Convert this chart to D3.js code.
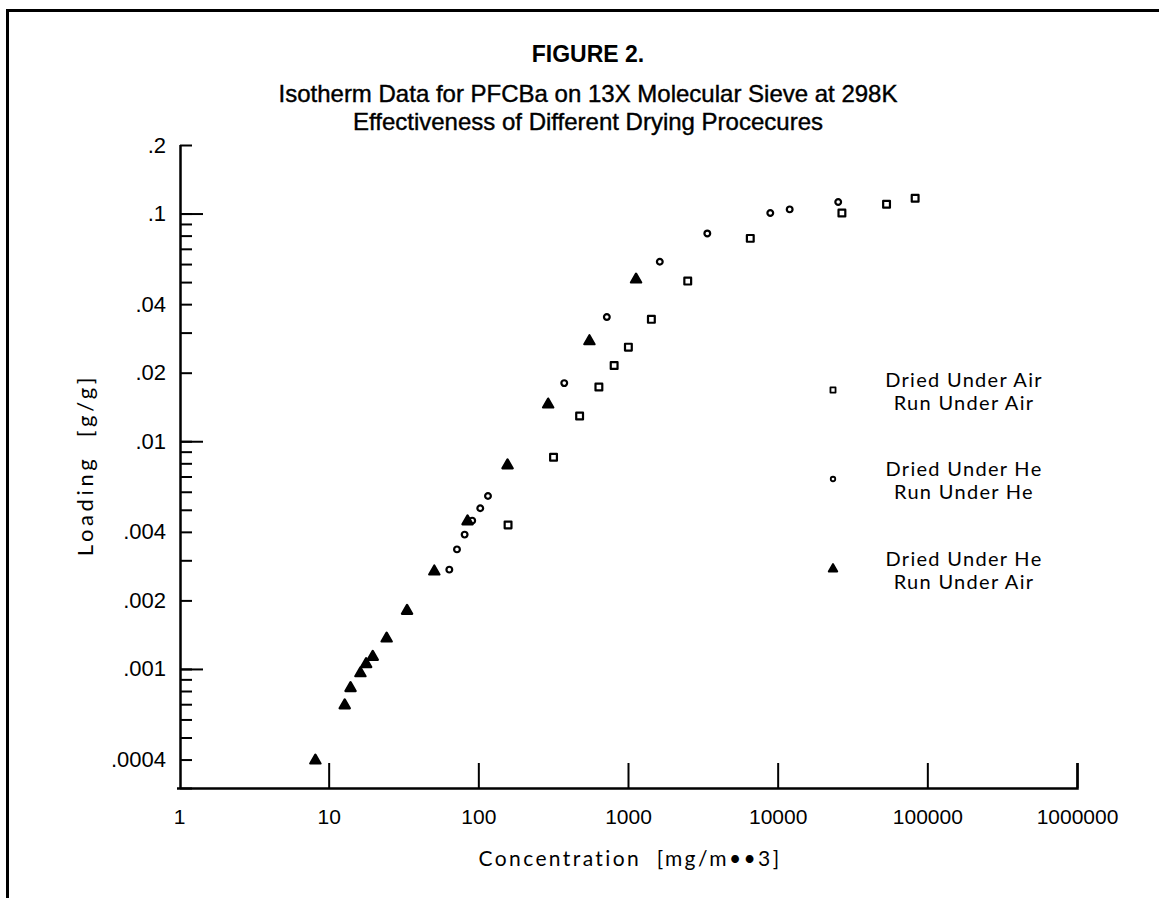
<!DOCTYPE html>
<html>
<head>
<meta charset="utf-8">
<script src="https://cdn.jsdelivr.net/npm/d3@7"></script>
<style>
  body { margin: 0; background: #fff; }
  svg { display: block; }
</style>
</head>
<body>
<svg id="chart"></svg>
<script>
// Isotherm data (concentration mg/m3, loading g/g)
const airX = [158, 318, 475, 639, 808, 1006, 1433, 2507, 6562, 26870, 53400, 82900];
const airY = [0.00429, 0.0085, 0.0129, 0.0173, 0.0215, 0.0259, 0.0343, 0.0505, 0.0778, 0.1005, 0.1098, 0.1167];

const heX = [64, 72, 81, 91, 103, 116, 375, 722, 1631, 3388, 8926, 12030, 25380];
const heY = [0.00273, 0.00335, 0.00389, 0.00448, 0.00508, 0.00575, 0.0180, 0.0351, 0.0614, 0.0818, 0.1005, 0.1043, 0.1124];

const heAirX = [8.15, 12.8, 14.0, 16.3, 17.8, 19.7, 24.4, 33.4, 50.8, 84.7, 156.7, 292.8, 552.5, 1132];
const heAirY = [0.000396, 0.000692, 0.000824, 0.000957, 0.00105, 0.00113, 0.00136, 0.0018, 0.00268, 0.00445, 0.00784, 0.0145, 0.0275, 0.0513];

const xTicks = [1, 10, 100, 1000, 10000, 100000, 1000000];
const xTickLabels = ["1", "10", "100", "1000", "10000", "100000", "1000000"];
const yTicks = [0.2, 0.1, 0.04, 0.02, 0.01, 0.004, 0.002, 0.001, 0.0004];
const yTickLabels = [".2", ".1", ".04", ".02", ".01", ".004", ".002", ".001", ".0004"];
const yMajor = [0.1, 0.01, 0.001];

const legendLines = [
  ["Dried Under Air", "Run Under Air"],
  ["Dried Under He", "Run Under He"],
  ["Dried Under He", "Run Under Air"]
];

let vWidth = 1159;
let vHeight = 898;
let geo = "Lato, 'DejaVu Sans', sans-serif";
let helv = "'Liberation Sans', Arial, sans-serif";

let svg = d3.select('#chart')
  .attr('width', vWidth)
  .attr('height', vHeight)

// page frame (top and left edges of the scanned sheet)
svg.append('path')
  .attr('d', 'M7.5,898 V10.5 H1159')
  .attr('fill', 'none')
  .attr('stroke', '#000')
  .attr('stroke-width', 3)

let x = d3.scaleLog().domain([1, 1e6]).range([179, 1077])
let y = d3.scaleLog().domain([0.0003, 0.2]).range([788, 145])

// titles
svg.append('text')
  .attr('x', 588).attr('y', 54)
  .attr('text-anchor', 'middle').attr('dominant-baseline', 'central')
  .style('font-family', helv).style('font-weight', 'bold').style('font-size', '23px')
  .text('FIGURE 2.')

let subtitles = svg.append('g')
  .style('font-family', helv).style('font-size', '24px')
  .attr('stroke', '#000').attr('stroke-width', 0.4)

subtitles.append('text')
  .attr('x', 588).attr('y', 93)
  .attr('text-anchor', 'middle').attr('dominant-baseline', 'central')
  .text('Isotherm Data for PFCBa on 13X Molecular Sieve at 298K')

subtitles.append('text')
  .attr('x', 588).attr('y', 121)
  .attr('text-anchor', 'middle').attr('dominant-baseline', 'central')
  .text('Effectiveness of Different Drying Procecures')

// y axis: minor ticks, major ticks, labels
let minor = []
for (let e = -4; e <= -1; e++) {
  for (let m = 1; m <= 9; m++) {
    let v = m * Math.pow(10, e)
    if (v >= 0.0003 && v <= 0.2) minor.push(v)
  }
}

let yMinorAxis = svg.append('g')
  .attr('transform', 'translate(180,0)')
  .call(d3.axisLeft(y).tickValues(minor).tickSizeInner(-12).tickSizeOuter(0).tickFormat(''))

let yMajorAxis = svg.append('g')
  .attr('transform', 'translate(180,0)')
  .call(d3.axisLeft(y).tickValues(yMajor).tickSizeInner(-23).tickSizeOuter(0).tickFormat(''))

let yLabelAxis = svg.append('g')
  .attr('transform', 'translate(180,0)')
  .call(d3.axisLeft(y).tickValues(yTicks).tickSize(0).tickPadding(14)
    .tickFormat((d, i) => yTickLabels[i]))

let xAxis = svg.append('g')
  .attr('transform', 'translate(0,788)')
  .call(d3.axisBottom(x).tickValues(xTicks).tickSizeInner(-25).tickSizeOuter(0).tickPadding(21)
    .tickFormat((d, i) => xTickLabels[i]))

svg.selectAll('.domain')
  .attr('stroke-width', 2.5)
svg.selectAll('.tick line')
  .attr('stroke-width', 2)
svg.selectAll('.tick text')
  .style('font-family', helv)
  .style('font-size', '21px')
  .attr('fill', '#000')
yLabelAxis.selectAll('.tick text')
  .style('font-size', '22px')

// hide the x tick at 1, it sits on the y axis
xAxis.selectAll('.tick').filter((d) => d === 1).select('line').remove()
xAxis.select('.domain').attr('d', 'M177,0.5H1077.5V-25')
yMinorAxis.select('.domain').attr('d', 'M0.5,' + y(0.0003) + 'V' + y(0.2))
yMajorAxis.select('.domain').remove()
yLabelAxis.select('.domain').remove()

// axis titles
svg.append('text')
  .attr('x', 630).attr('y', 857)
  .attr('text-anchor', 'middle').attr('dominant-baseline', 'central')
  .style('font-family', geo).style('font-size', '21px')
  .style('letter-spacing', '2.4px').style('white-space', 'pre')
  .text('Concentration  [mg/m\u2022\u20223]')

svg.append('text')
  .attr('transform', 'translate(84,465) rotate(-90)')
  .attr('text-anchor', 'middle').attr('dominant-baseline', 'central')
  .style('font-family', geo).style('font-size', '22px')
  .style('letter-spacing', '3.6px').style('white-space', 'pre')
  .text('Loading  [g/g]')

// markers
let series = [
  { xs: airX, ys: airY, sym: d3.symbol().type(d3.symbolSquare).size(46), fill: 'none' },
  { xs: heX, ys: heY, sym: d3.symbol().type(d3.symbolCircle).size(26), fill: 'none' },
  { xs: heAirX, ys: heAirY, sym: d3.symbol().type(d3.symbolTriangle).size(46), fill: '#000' }
]

series.forEach((s) => {
  svg.append('g')
    .selectAll('path')
    .data(s.xs.map((v, i) => [v, s.ys[i]]))
    .enter()
    .append('path')
    .attr('transform', (d) => `translate(${x(d[0])},${y(d[1])})`)
    .attr('d', s.sym())
    .attr('fill', s.fill)
    .attr('stroke', '#000')
    .attr('stroke-width', 2.2)
    .attr('stroke-linejoin', 'round')
})

// legend
let legendSyms = [
  d3.symbol().type(d3.symbolSquare).size(26),
  d3.symbol().type(d3.symbolCircle).size(16),
  d3.symbol().type(d3.symbolTriangle).size(32)
]
let legendFill = ['none', 'none', '#000']
let legendTop = [379, 468, 558]

legendLines.forEach((lines, i) => {
  let g = svg.append('g')
  g.append('path')
    .attr('transform', `translate(833,${legendTop[i] + 11})`)
    .attr('d', legendSyms[i]())
    .attr('fill', legendFill[i])
    .attr('stroke', '#000')
    .attr('stroke-width', 1.8)
    .attr('stroke-linejoin', 'round')
  lines.forEach((t, j) => {
    g.append('text')
      .attr('x', 964).attr('y', legendTop[i] + j * 23)
      .attr('text-anchor', 'middle').attr('dominant-baseline', 'central')
      .style('font-family', geo).style('font-size', '20px')
      .style('letter-spacing', '1.3px')
      .text(t)
  })
})
</script>
</body>
</html>
